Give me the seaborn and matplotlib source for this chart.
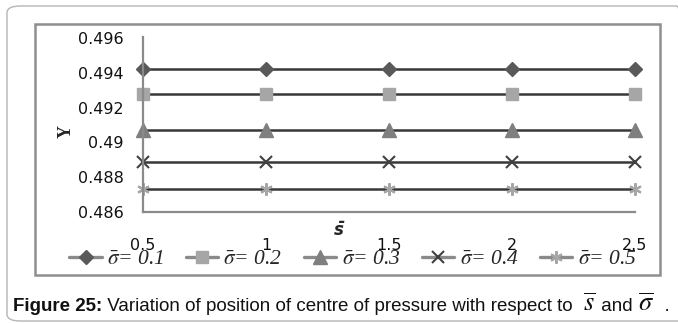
import matplotlib
matplotlib.use("Agg")
import matplotlib.pyplot as plt
from matplotlib.patches import FancyBboxPatch, Rectangle
import seaborn as sns

# Dimensionless stop position s̄ (x axis)
s_bar = [0.5, 1.0, 1.5, 2.0, 2.5]
x_tick_labels = ["0.5", "1", "1.5", "2", "2.5"]

# Centre-of-pressure position Y for each σ̄
y_sigma_01 = [0.4942, 0.4942, 0.4942, 0.4942, 0.4942]
y_sigma_02 = [0.4928, 0.4928, 0.4928, 0.4928, 0.4928]
y_sigma_03 = [0.4907, 0.4907, 0.4907, 0.4907, 0.4907]
y_sigma_04 = [0.4889, 0.4889, 0.4889, 0.4889, 0.4889]
y_sigma_05 = [0.4873, 0.4873, 0.4873, 0.4873, 0.4873]
sigma_labels = ["0.1", "0.2", "0.3", "0.4", "0.5"]

y_ticks = [0.486, 0.488, 0.49, 0.492, 0.494, 0.496]
y_tick_labels = ["0.486", "0.488", "0.49", "0.492", "0.494", "0.496"]

sns.set_theme(style="white")
plt.rcParams["font.family"] = ["Liberation Sans", "DejaVu Sans"]
plt.rcParams["mathtext.fontset"] = "stix"

W, H = 678, 323
fig = plt.figure(figsize=(W / 100, H / 100), dpi=100)


def fx(px):
    return px / W


def fy(py):
    return 1 - py / H


ax = fig.add_axes([fx(143), fy(212), fx(635) - fx(143), fy(37) - fy(212)])

series = [y_sigma_01, y_sigma_02, y_sigma_03, y_sigma_04, y_sigma_05]
styles = [
    dict(marker="D", ms=7.5, mfc="#595959", mec="#595959", mew=1.0),
    dict(marker="s", ms=8.5, mfc="#a6a6a6", mec="#a6a6a6", mew=1.0),
    dict(marker="^", ms=9.5, mfc="#7f7f7f", mec="#7f7f7f", mew=1.0),
    dict(marker="x", ms=8, mfc="none", mec="#404040", mew=1.5),
    dict(marker=(6, 2, 0), ms=9, mfc="none", mec="#a6a6a6", mew=1.5),
]

handles = []
for vals, st, lab in zip(series, styles, sigma_labels):
    sns.lineplot(x=s_bar, y=vals, ax=ax, color="#383838", lw=1.8,
                 legend=False, **st)
    h, = ax.plot([], [], color="#8a8a8a", lw=2.4, **st)
    h.set_label(r"$\bar{\sigma}$= " + lab)
    handles.append(h)

ax.set_xlim(0.5, 2.5)
ax.set_ylim(0.486, 0.49605)
ax.set_yticks(y_ticks)
ax.set_yticklabels(y_tick_labels)
ax.set_xticks(s_bar)
ax.set_xticklabels(x_tick_labels)
ax.tick_params(axis="y", length=0, pad=14, labelsize=11.5, labelcolor="#111111")
ax.tick_params(axis="x", length=0, pad=19, labelsize=11.5, labelcolor="#111111")
for lbl in ax.get_xticklabels() + ax.get_yticklabels():
    lbl.set_fontfamily("DejaVu Sans")
for sp in ["top", "right"]:
    ax.spines[sp].set_visible(False)
for sp in ["left", "bottom"]:
    ax.spines[sp].set_color("#8a8a8a")
    ax.spines[sp].set_linewidth(1.6)
for artist in ax.lines:
    artist.set_clip_on(False)

ax.set_ylabel("")
fig.text(fx(66), fy(131), "Y", rotation=90, ha="center", va="center",
         fontsize=13, fontweight="bold", family="Liberation Serif")
fig.text(fx(339), fy(230), "s\u0304", ha="center", va="center",
         fontsize=12, fontweight="bold", family="DejaVu Sans", style="italic")

leg = fig.legend(handles=handles, loc="center", ncol=5,
                 bbox_to_anchor=(fx(353), fy(259)), frameon=False,
                 prop=dict(family="Liberation Serif", style="italic", size=15.5),
                 handlelength=1.5, handletextpad=0.25, columnspacing=1.0,
                 borderaxespad=0, borderpad=0)

# Inner chart frame and outer rounded panel
fig.patches.append(Rectangle((fx(35), fy(275)), fx(660) - fx(35), fy(24) - fy(275),
                             transform=fig.transFigure, fill=False,
                             edgecolor="#8f8f8f", lw=1.8))
fig.patches.append(FancyBboxPatch((fx(7), fy(321)), fx(690) - fx(7), fy(6) - fy(321),
                                  boxstyle="round,pad=0,rounding_size=0.02",
                                  transform=fig.transFigure, fill=False,
                                  edgecolor="#b5b5b5", lw=1.0))

# Caption built from consecutive pieces on a common baseline
renderer = fig.canvas.get_renderer()
pieces = [
    ("Figure 25:", dict(fontsize=13.5, fontweight="bold")),
    (" Variation of position of centre of pressure with respect to  ", dict(fontsize=13.5)),
    (r"$\overline{s}$", dict(fontsize=19)),
    (" and ", dict(fontsize=13.5)),
    (r"$\overline{\sigma}$", dict(fontsize=19)),
    ("  .", dict(fontsize=13.5)),
]
x_px = 13
for txt, kw in pieces:
    t = fig.text(fx(x_px), fy(311), txt, ha="left", va="baseline",
                 color="#111111", **kw)
    bb = t.get_window_extent(renderer)
    x_px += bb.width

fig.savefig("out.png", dpi=100)
